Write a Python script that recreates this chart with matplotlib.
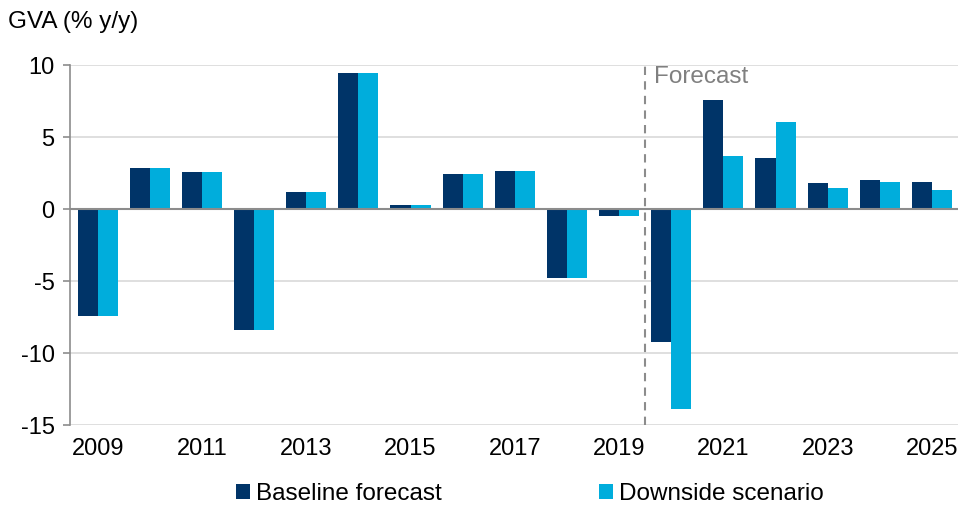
import numpy as np
import matplotlib
matplotlib.use("Agg")
import matplotlib.pyplot as plt

plt.rcParams['font.family'] = ['Liberation Sans', 'DejaVu Sans']

years = list(range(2009, 2026))
baseline = [-7.4, 2.85, 2.57, -8.4, 1.16, 9.42, 0.3, 2.43, 2.62, -4.8, -0.46,
            -9.25, 7.6, 3.52, 1.78, 2.01, 1.85]
downside = [-7.4, 2.85, 2.57, -8.4, 1.16, 9.42, 0.3, 2.43, 2.62, -4.8, -0.46,
            -13.85, 3.7, 6.04, 1.44, 1.85, 1.34]
tick_years = years[::2]
forecast_start = 2020

navy = '#003468'
cyan = '#00ADDC'

fig = plt.figure(figsize=(9.67, 5.08), dpi=100)
ax = fig.add_axes([0.0724, 0.163, 0.9183, 0.709])

x = np.arange(len(years))
w = 0.385
ax.bar(x - w / 2, baseline, w, color=navy, label='Baseline forecast', zorder=3)
ax.bar(x + w / 2, downside, w, color=cyan, label='Downside scenario', zorder=3)

ax.set_ylim(-15, 10)
ax.set_xlim(-0.53, len(years) - 0.5)
ax.set_yticks([-15, -10, -5, 0, 5, 10])
ax.set_yticklabels(['-15', '-10', '-5', '0', '5', '10'])
ax.set_xticks([years.index(y) for y in tick_years])
ax.set_xticklabels([str(y) for y in tick_years])

ax.grid(axis='y', color='#d9d9d9', linewidth=1.2, zorder=0)
ax.axhline(0, color='#8c8c8c', linewidth=1.5, zorder=4)
for s in ['top', 'right', 'bottom']:
    ax.spines[s].set_visible(False)
ax.spines['left'].set_color('#8c8c8c')
ax.spines['left'].set_linewidth(1.2)
ax.tick_params(axis='y', length=5, color='#8c8c8c', width=1.2, labelsize=17, pad=6)
ax.tick_params(axis='x', length=0, labelsize=17, pad=9)

# forecast divider
fx = years.index(forecast_start) - 0.5
ax.axvline(fx, color='#8c8c8c', linestyle=(0, (4, 3)), linewidth=1.5, zorder=2)
ax.text(fx + 0.17, 9.15, 'Forecast', color='#808080', fontsize=17.5, va='center', ha='left')

fig.text(0.008, 0.957, 'GVA (% y/y)', fontsize=17.5, va='center', ha='left')

fig.legend(loc='center', bbox_to_anchor=(0.548, 0.027), ncol=2, frameon=False,
           fontsize=17.5, handlelength=0.55, handleheight=0.55, handletextpad=0.25,
           columnspacing=6.5)

fig.savefig('out.png', dpi=100)
